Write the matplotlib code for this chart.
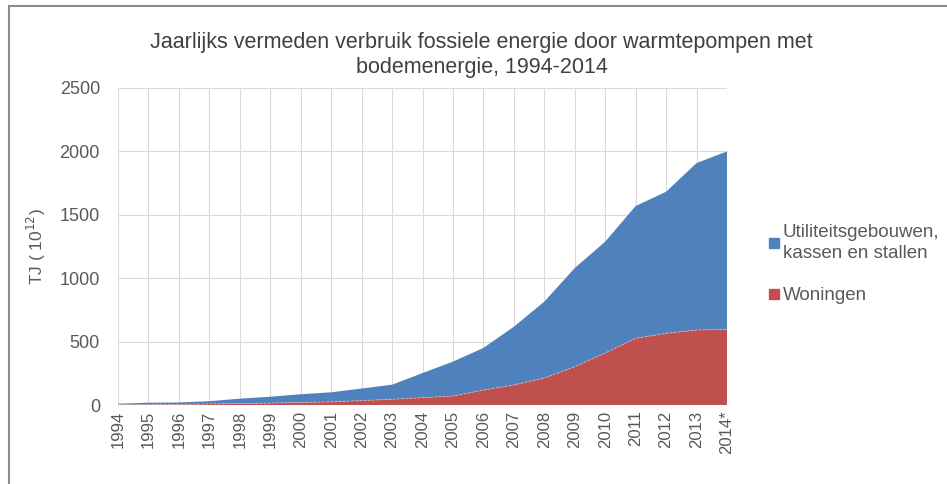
import matplotlib.pyplot as plt
from matplotlib.lines import Line2D
import numpy as np

plt.rcParams['font.family'] = ['Liberation Sans', 'DejaVu Sans']

# data
years = ['1994', '1995', '1996', '1997', '1998', '1999', '2000', '2001', '2002',
         '2003', '2004', '2005', '2006', '2007', '2008', '2009', '2010', '2011',
         '2012', '2013', '2014*']
woningen = [2, 3, 5, 8, 12, 15, 20, 25, 35, 45, 58, 71, 118, 158, 213, 302, 410,
            526, 565, 591, 597]
totaal = [10, 18, 20, 30, 50, 65, 85, 100, 130, 160, 252, 342, 450, 617, 815,
          1080, 1288, 1569, 1682, 1908, 2000]
utiliteit = [t - w for t, w in zip(totaal, woningen)]

blue = '#4F81BD'
red = '#C0504D'
grey_text = '#595959'

fig = plt.figure(figsize=(9.47, 4.84), dpi=100)
ax = fig.add_axes([118 / 947, 1 - 405 / 484, (727 - 118) / 947, (405 - 88) / 484])

x = np.arange(len(years))
ax.stackplot(x, woningen, utiliteit, colors=[red, blue], linewidth=0)
ax.plot(x, woningen, color='#E8B0AE', lw=0.6, ls=(0, (3, 2)))

ax.set_xlim(0, len(years) - 1)
ax.set_ylim(0, 2500)
ax.set_yticks(np.arange(0, 2501, 500))
ax.set_xticks(x)
ax.set_xticklabels(years, rotation=90, fontsize=12, color=grey_text)
ax.tick_params(axis='y', labelsize=13, colors=grey_text, length=0, pad=13)
ax.tick_params(axis='x', length=0, pad=4)
ax.grid(True, color='#D9D9D9', lw=0.8)
ax.set_axisbelow(True)
for s in ax.spines.values():
    s.set_visible(False)

ax.set_ylabel('TJ ( 10$^{12}$)', fontsize=12.5, color=grey_text, labelpad=8)

fig.text(0.5 * (124 + 839) / 947, 1 - 55 / 484,
         'Jaarlijks vermeden verbruik fossiele energie door warmtepompen met\nbodemenergie, 1994-2014',
         ha='center', va='center', fontsize=15.5, color='#404040', linespacing=1.3)

handles = [Line2D([], [], marker='s', ls='', color=blue, markersize=7),
           Line2D([], [], marker='s', ls='', color=red, markersize=7)]
leg = fig.legend(handles, ['Utiliteitsgebouwen,\nkassen en stallen', 'Woningen'],
                 loc='upper left', bbox_to_anchor=(750 / 947, 1 - 207 / 484),
                 frameon=False, fontsize=13.5, handletextpad=0.05,
                 handlelength=0.8, labelspacing=1.35)
for t in leg.get_texts():
    t.set_color(grey_text)
    t.set_linespacing(1.3)

# outer frame of the original image
fig.add_artist(Line2D([9 / 947, 9 / 947], [0, 1 - 6 / 484], color='#8C8C8C', lw=1.5))
fig.add_artist(Line2D([9 / 947, 1], [1 - 6 / 484, 1 - 6 / 484], color='#8C8C8C', lw=1.5))

fig.savefig('out.png', dpi=100)
